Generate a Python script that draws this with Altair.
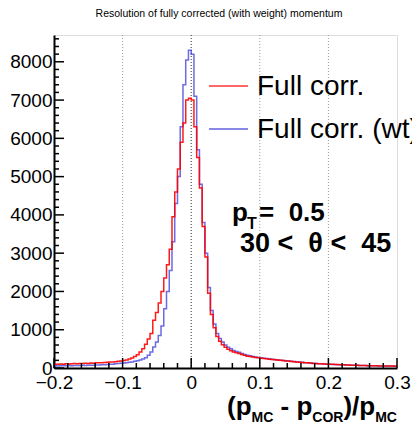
import altair as alt
import pandas as pd

# ---------------- data ----------------
bin_lo = -0.2
bin_width = 0.004

red_counts = [
    100, 95, 105, 100, 110, 105, 110, 115, 110, 120, 115, 125, 120, 130, 125, 135, 140, 135, 145, 150, 155, 160, 165, 175, 185,
    195, 210, 235, 260, 300, 345, 420, 500, 620, 760, 900, 1250, 1450, 1700, 2000, 2350, 2700, 3100, 3950, 4600, 5200, 5900,
    6400, 7000, 7050, 7000, 6300, 5500, 4700, 3700, 2900, 1950, 1400, 1050, 820, 700, 610, 540, 490, 450, 420, 400, 380, 355,
    330, 310, 300, 285, 275, 265, 255,
    245, 240, 230, 225, 215, 210, 200, 195, 185, 180, 170, 165, 160, 150, 145, 140, 135, 130, 120, 115, 110, 108, 105, 100,
    98, 95, 92, 90, 85, 82, 80, 78, 75, 72, 70, 68, 66, 64, 62, 60, 58, 57, 55, 54, 53, 52, 50, 50, 48,
]
blue_counts = [
    60, 55, 62, 58, 60, 65, 60, 63, 68, 65, 70, 68, 72, 75, 72, 78, 80, 85, 88, 92, 95, 100, 108, 115, 125,
    132, 140, 150, 160, 175, 190, 210, 235, 265, 330, 420, 550, 680, 850, 1100, 1550, 2000, 2550, 3300, 4300, 5000, 6300,
    7400, 8050, 8300, 8200, 7100, 5700, 4800, 3800, 3000, 2100, 1500, 1150, 900, 770, 680, 600, 540, 500, 460, 430, 410, 380,
    355, 335, 320, 300, 290, 275, 265,
    255, 245, 240, 230, 220, 212, 205, 198, 190, 182, 175, 168, 160, 155, 148, 140, 135, 128, 122, 116, 112, 108, 104, 100,
    97, 94, 90, 88, 85, 82, 80, 77, 75, 72, 70, 68, 66, 64, 62, 60, 58, 56, 55, 54, 52, 51, 50, 49, 48,
]

x_major = [-0.2, -0.1, 0.0, 0.1, 0.2, 0.3]
x_minor = [round(-0.2 + 0.02 * k, 3) for k in range(26) if k % 5 != 0]
y_major = [0, 1000, 2000, 3000, 4000, 5000, 6000, 7000, 8000]
y_minor = [200 * k for k in range(1, 44) if k % 5 != 0]
grid_gray = [-0.1, 0.1, 0.2]
grid_zero = [0.0]

title_text = "Resolution of fully corrected (with weight) momentum"
legend_labels = ["Full corr.", "Full corr. (wt)"]
NB = "\u00a0"

X_DOMAIN = [-0.2, 0.3]
Y_DOMAIN = [0, 8700]
FONT = "Liberation Sans"
W, H = 343, 333


def hist_frame(counts):
    rows = []
    for i, c in enumerate(counts):
        rows.append({"x": round(bin_lo + i * bin_width, 4), "n": c})
    rows.append({"x": round(bin_lo + len(counts) * bin_width, 4), "n": counts[-1]})
    return pd.DataFrame(rows)


xs = alt.Scale(domain=X_DOMAIN, nice=False, zero=False)
ys = alt.Scale(domain=Y_DOMAIN, nice=False)

x_axis = alt.Axis(
    values=x_major, labelExpr="datum.value == 0 ? '0' : replace(format(datum.value, '.1f'), '-', '–')",
    labelFontSize=19, labelFont=FONT, labelColor="black", ticks=False, grid=False,
    domainColor="black", domainWidth=2, labelPadding=5, labelFlush=False, labelOverlap=False, title=None,
)
y_axis = alt.Axis(
    values=y_major, format="d", labelFontSize=19, labelFont=FONT, labelColor="black", ticks=False,
    grid=False, domainColor="black", domainWidth=2, labelPadding=2, title=None,
)

# histograms
blue_line = alt.Chart(hist_frame(blue_counts)).mark_line(
    interpolate="step-after", color="#3a3ad8", strokeWidth=1.5, opacity=0.75
).encode(x=alt.X("x:Q", scale=xs, axis=x_axis), y=alt.Y("n:Q", scale=ys, axis=y_axis))

red_line = alt.Chart(hist_frame(red_counts)).mark_line(
    interpolate="step-after", color="#ff0000", strokeWidth=1.5, opacity=0.9
).encode(x=alt.X("x:Q", scale=xs), y=alt.Y("n:Q", scale=ys))

# grid lines
grid1 = alt.Chart(pd.DataFrame({"v": grid_gray})).mark_rule(
    color="#999999", strokeDash=[1, 2], strokeWidth=1
).encode(x=alt.X("v:Q", scale=xs), y=alt.value(0), y2=alt.value(H))
grid0 = alt.Chart(pd.DataFrame({"v": grid_zero})).mark_rule(
    color="#333333", strokeDash=[1, 2], strokeWidth=1
).encode(x=alt.X("v:Q", scale=xs), y=alt.value(0), y2=alt.value(H))

# inward ticks
xt_major = alt.Chart(pd.DataFrame({"v": x_major})).mark_rule(color="black", strokeWidth=1.5).encode(
    x=alt.X("v:Q", scale=xs), y=alt.value(H), y2=alt.value(H - 10))
xt_minor = alt.Chart(pd.DataFrame({"v": x_minor})).mark_rule(color="black", strokeWidth=1.5).encode(
    x=alt.X("v:Q", scale=xs), y=alt.value(H), y2=alt.value(H - 5))
yt_major = alt.Chart(pd.DataFrame({"v": y_major})).mark_rule(color="black", strokeWidth=1.5).encode(
    y=alt.Y("v:Q", scale=ys), x=alt.value(0), x2=alt.value(10))
yt_minor = alt.Chart(pd.DataFrame({"v": y_minor})).mark_rule(color="black", strokeWidth=1.5).encode(
    y=alt.Y("v:Q", scale=ys), x=alt.value(0), x2=alt.value(5))


def label(txt, x, y, size, bold=False, align="left", baseline="alphabetic"):
    return alt.Chart(pd.DataFrame({"t": [txt]})).mark_text(
        font=FONT, fontSize=size, fontWeight="bold" if bold else "normal", color="black",
        align=align, baseline=baseline,
    ).encode(text="t:N", x=alt.value(x), y=alt.value(y))


title = label(title_text, 165, -18, 10.5, align="center")

# legend
leg_red = alt.Chart(pd.DataFrame({"t": [legend_labels[0]]})).mark_rule(color="#ff0000", strokeWidth=1.5, opacity=0.8).encode(
    x=alt.value(155), x2=alt.value(194), y=alt.value(51))
leg_blue = alt.Chart(pd.DataFrame({"t": [legend_labels[1]]})).mark_rule(color="#3a3ad8", strokeWidth=1.5, opacity=0.8).encode(
    x=alt.value(155), x2=alt.value(194), y=alt.value(94))
leg_t1 = label(legend_labels[0], 203, 52, 28, baseline="middle")
leg_t2 = label(legend_labels[1], 203, 95, 28, baseline="middle")

# annotations
pt_p = label("p", 178, 186, 26, bold=True)
pt_T = label("T", 193, 194, 16, bold=True)
pt_v = label("=" + NB + NB + "0.5", 205, 186, 26, bold=True)
theta = label("30 <" + NB + NB + "θ <" + NB + NB + "45", 186, 217, 27, bold=True)

# x-axis title pieces
xt1 = label("(p", 173, 380, 26, bold=True)
xt2 = label("MC", 197.5, 387, 14, bold=True)
xt3 = label("-" + NB + "p", 226.5, 380, 26, bold=True)
xt4 = label("COR", 258.3, 387, 14, bold=True)
xt5 = label(")/p", 289.4, 380, 26, bold=True)
xt6 = label("MC", 321.2, 387, 14, bold=True)

chart = alt.layer(
    grid1, grid0, blue_line, red_line, xt_major, xt_minor, yt_major, yt_minor,
    leg_red, leg_blue, leg_t1, leg_t2, pt_p, pt_T, pt_v, theta,
    xt1, xt2, xt3, xt4, xt5, xt6, title,
).properties(
    width=W, height=H, autosize=alt.AutoSizeParams(type="none"),
    padding={"left": 54, "top": 35, "right": 15, "bottom": 58},
).configure_view(stroke="black", strokeWidth=1).configure(background="white")

chart.save("out.html", embed_options={"renderer": "svg", "actions": False})
